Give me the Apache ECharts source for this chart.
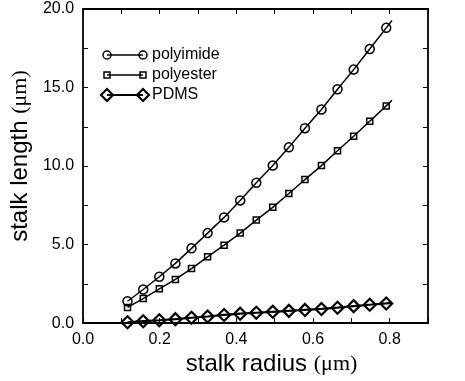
<!DOCTYPE html>
<html>
<head>
<meta charset="utf-8">
<script src="https://cdn.jsdelivr.net/npm/echarts@6/dist/echarts.min.js"></script>
<style>
  html, body { margin: 0; padding: 0; background: #fff; }
  #chart { width: 465px; height: 381px; }
</style>
</head>
<body>
<div id="chart"></div>
<script>
// stalk radius (um), last entry is the curve end without a marker
var radius = [0.116, 0.157, 0.199, 0.241, 0.283, 0.325, 0.368, 0.410, 0.452,
              0.495, 0.537, 0.579, 0.622, 0.664, 0.706, 0.748, 0.791, 0.806];
var polyimide = [1.39, 2.14, 2.95, 3.80, 4.76, 5.73, 6.73, 7.81, 8.93,
                 10.03, 11.19, 12.41, 13.60, 14.89, 16.14, 17.45, 18.80, 19.27];
var polyester = [1.00, 1.56, 2.18, 2.78, 3.47, 4.22, 4.96, 5.73, 6.56,
                 7.37, 8.25, 9.14, 10.03, 10.97, 11.90, 12.85, 13.83, 14.19];
var pdms = [0.05, 0.12, 0.18, 0.25, 0.34, 0.42, 0.52, 0.60, 0.66,
            0.72, 0.78, 0.84, 0.90, 0.98, 1.08, 1.17, 1.25, 1.28];
var seriesNames = ['polyimide', 'polyester', 'PDMS'];
var xLabels = ['0.0', '0.2', '0.4', '0.6', '0.8'];
var yLabels = ['0.0', '5.0', '10.0', '15.0', '20.0'];

var font = 'Liberation Sans, Arial, Helvetica, sans-serif';

function pairs(ys) {
    return ys.map(function (y, i) {
        var item = { value: [radius[i], y] };
        if (i === ys.length - 1) item.symbol = 'none';
        return item;
    });
}

function makeSeries(name, ys, symbol, size, width) {
    return {
        name: name,
        type: 'line',
        data: pairs(ys),
        symbol: symbol,
        symbolSize: size,
        showAllSymbol: true,
        lineStyle: { color: '#000', width: width },
        itemStyle: { color: 'rgba(0,0,0,0)', borderColor: '#000', borderWidth: width },
        emphasis: { disabled: true },
        animation: false
    };
}

function legendRow(i, symbol) {
    var y = 55 + i * 20, x1 = 107, x2 = 143;
    var w = i === 2 ? 2.2 : 1.5;
    var kids = [{
        type: 'line',
        shape: { x1: x1, y1: y, x2: x2, y2: y },
        style: { stroke: '#000', lineWidth: w }
    }];
    [x1, x2].forEach(function (x) {
        var st = { fill: 'none', stroke: '#000', lineWidth: w };
        if (symbol === 'circle') {
            kids.push({ type: 'circle', shape: { cx: x, cy: y, r: 4 }, style: st });
        } else if (symbol === 'rect') {
            kids.push({ type: 'rect', shape: { x: x - 3, y: y - 3, width: 6, height: 6 }, style: st });
        } else {
            kids.push({ type: 'polygon', shape: { points: [[x - 6, y], [x, y - 6], [x + 6, y], [x, y + 6]] }, style: st });
        }
    });
    kids.push({
        type: 'text',
        x: 152, y: y,
        style: { text: seriesNames[i], font: '16px ' + font, fill: '#000', verticalAlign: 'middle' }
    });
    return { type: 'group', children: kids };
}

function axisBase(pos) {
    return {
        type: 'value',
        position: pos,
        axisLine: { show: true, onZero: false, lineStyle: { color: '#000', width: 1.8 } },
        axisTick: { show: true, inside: true, length: 5, lineStyle: { color: '#000', width: 1 } },
        splitLine: { show: false }
    };
}

var chart = echarts.init(document.getElementById('chart'));

var xBottom = Object.assign(axisBase('bottom'), {
    min: 0, max: 0.9, interval: 0.1,
    name: 'stalk radius {u|(μm)}',
    nameLocation: 'middle',
    nameGap: 22,
    nameTextStyle: {
        fontFamily: font, fontSize: 24, color: '#000', padding: [0, 0, 0, 32],
        rich: { u: { fontFamily: 'Liberation Serif, Times New Roman, serif', fontSize: 22, color: '#000' } }
    },
    axisLabel: {
        fontFamily: font, fontSize: 16, color: '#000', margin: 8,
        formatter: function (v) {
            var s = v.toFixed(1);
            return xLabels.indexOf(s) >= 0 ? s : '';
        }
    }
});
var xTop = Object.assign(axisBase('top'), {
    min: 0, max: 0.9, interval: 0.1, axisLabel: { show: false }
});
var yLeft = Object.assign(axisBase('left'), {
    min: 0, max: 20, interval: 2.5,
    name: 'stalk length {u|(μm)}',
    nameLocation: 'middle',
    nameGap: 48,
    nameRotate: 90,
    nameTextStyle: {
        fontFamily: font, fontSize: 24, color: '#000', padding: [0, 0, 0, 20],
        rich: { u: { fontFamily: 'Liberation Serif, Times New Roman, serif', fontSize: 22, color: '#000' } }
    },
    axisLabel: {
        fontFamily: font, fontSize: 16, color: '#000', margin: 9,
        formatter: function (v) {
            var s = v.toFixed(1);
            return yLabels.indexOf(s) >= 0 ? s : '';
        }
    }
});
var yRight = Object.assign(axisBase('right'), {
    min: 0, max: 20, interval: 2.5, axisLabel: { show: false }
});

var option = {
    backgroundColor: '#fff',
    animation: false,
    grid: { left: 80, right: 37, top: 9, bottom: 51, containLabel: false },
    xAxis: [xBottom, xTop],
    yAxis: [yLeft, yRight],
    series: [
        makeSeries(seriesNames[0], polyimide, 'circle', 9, 1.5),
        makeSeries(seriesNames[1], polyester, 'rect', 6, 1.5),
        makeSeries(seriesNames[2], pdms, 'diamond', 12, 2.2)
    ],
    graphic: [legendRow(0, 'circle'), legendRow(1, 'rect'), legendRow(2, 'diamond')]
};

chart.setOption(option);
</script>
</body>
</html>
